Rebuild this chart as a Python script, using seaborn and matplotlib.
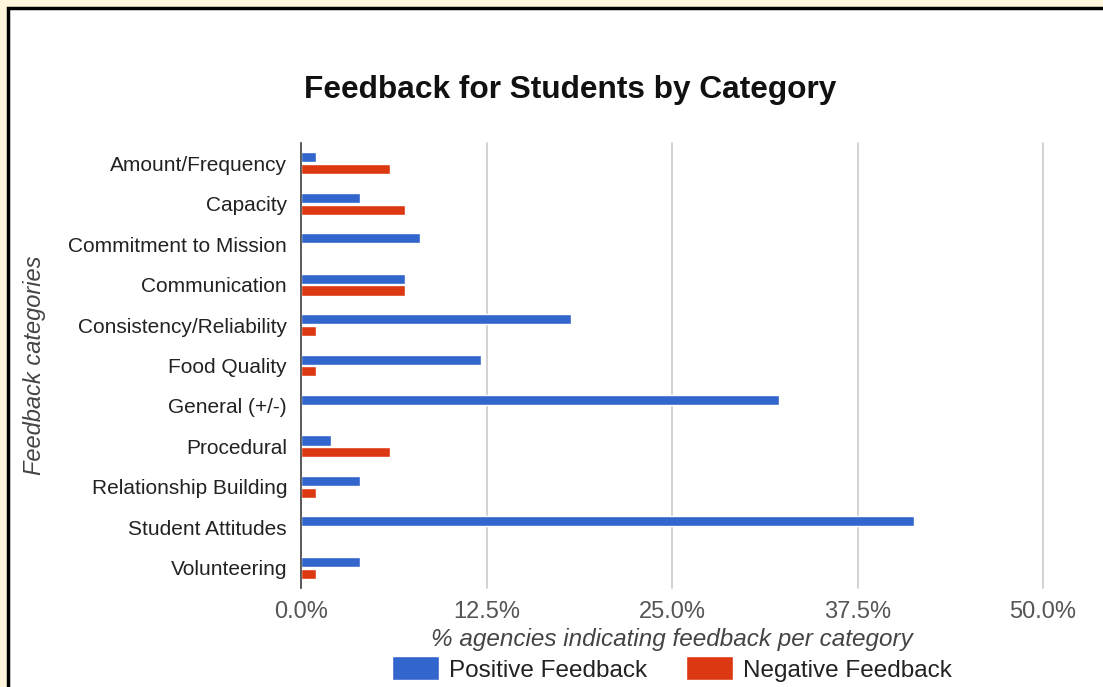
import numpy as np
import pandas as pd
import seaborn as sns
import matplotlib.pyplot as plt
from matplotlib.patches import Rectangle
from matplotlib.ticker import FuncFormatter

categories = ["Amount/Frequency", "Capacity", "Commitment to Mission", "Communication",
              "Consistency/Reliability", "Food Quality", "General (+/-)", "Procedural",
              "Relationship Building", "Student Attitudes", "Volunteering"]
positive = [1.0, 4.0, 8.0, 7.0, 18.2, 12.1, 32.2, 2.0, 4.0, 41.3, 4.0]
negative = [6.0, 7.0, 0.0, 7.0, 1.0, 1.0, 0.0, 6.0, 1.0, 0.0, 1.0]
series = ["Positive Feedback", "Negative Feedback"]
xticks = [0, 12.5, 25, 37.5, 50]

df = pd.DataFrame({
    "category": categories * 2,
    "value": positive + negative,
    "series": [series[0]] * len(categories) + [series[1]] * len(categories),
})

sns.set_theme(style="white")
plt.rcParams['font.family'] = ['Liberation Sans', 'DejaVu Sans']

fig = plt.figure(figsize=(11.03, 6.87), dpi=100, facecolor="#fff4dc")
# white card with black top/left border
fig.patches.append(Rectangle((8 / 1103, -0.1), 1.2, 1 - 8 / 687 + 0.1, transform=fig.transFigure,
                             facecolor="white", edgecolor="black", linewidth=2.5, zorder=-1))

ax = fig.add_axes([301 / 1103, 1 - 588 / 687, 742 / 1103, 445 / 687])
sns.barplot(data=df, x="value", y="category", hue="series", orient="h",
            palette=["#3366cc", "#dc3912"], width=0.58, gap=0.14, ax=ax,
            legend=True, saturation=1)

ax.set_xlim(0, 50)
ax.set_xticks(xticks)
ax.xaxis.set_major_formatter(FuncFormatter(lambda v, p: f"{v:.1f}%"))
ax.grid(axis="x", color="#cccccc", linewidth=1.2)
for gl in ax.get_xgridlines():
    gl.set_clip_on(False)
ax.set_axisbelow(True)
for s in ["top", "right", "bottom"]:
    ax.spines[s].set_visible(False)
ax.spines["left"].set_color("#444444")
ax.spines["left"].set_linewidth(1.2)
ax.tick_params(axis="x", length=0, pad=9, labelsize=17, labelcolor="#555555")
ax.tick_params(axis="y", length=0, pad=10, labelsize=15, labelcolor="#222222")

ax.set_xlabel("% agencies indicating feedback per category", fontsize=17.5,
              style="italic", color="#444444", labelpad=4)
ax.set_ylabel("Feedback categories", fontsize=17, style="italic", color="#444444")
ax.yaxis.set_label_coords((35 - 301) / 742, 0.5)
ax.yaxis.label.set(va="center", ha="center", rotation_mode="default")

handles, labels = ax.get_legend_handles_labels()
ax.legend_.remove()
fig.legend(handles, labels, loc="center", bbox_to_anchor=(672 / 1103, 1 - 669 / 687),
           ncol=2, frameon=False, fontsize=17.5, handlelength=1.95, handleheight=1.15,
           columnspacing=1.6, handletextpad=0.4, labelcolor="#222222")

fig.text(570 / 1103, 1 - 90 / 687, "Feedback for Students by Category", ha="center",
         va="center", fontsize=22.8, fontweight="bold", color="#111111")

fig.savefig("out.png", dpi=100, facecolor=fig.get_facecolor())
